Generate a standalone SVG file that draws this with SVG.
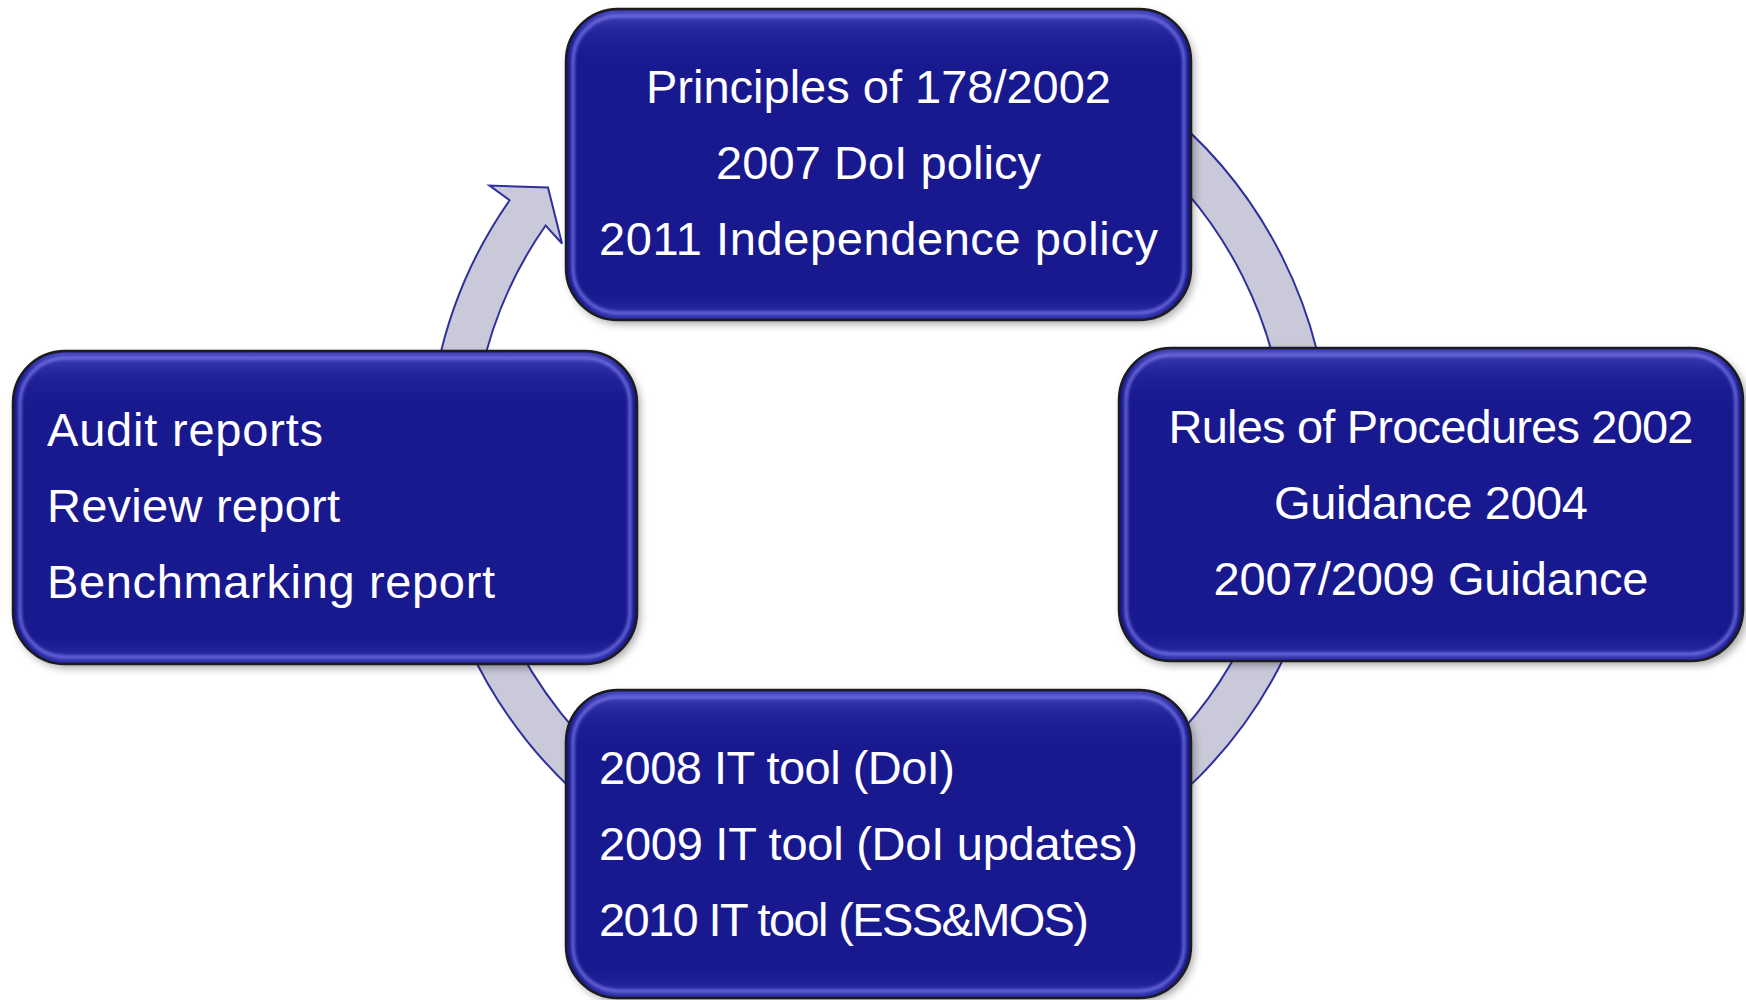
<svg xmlns="http://www.w3.org/2000/svg" width="1746" height="1000" viewBox="0 0 1746 1000">
  <defs>
    <style>
      .box { fill: #19198f; stroke: #1c1c1c; stroke-width: 2.5; }
      .shadow { fill: #000; opacity: 0.35; }
      .hl { fill: none; stroke: #8080f0; stroke-width: 3.5; opacity: 0.75; }
      .top { fill: url(#topg); }
      .t { font-family: "Liberation Sans", Arial, sans-serif; font-size: 47px; fill: #ffffff; }
      .c { text-anchor: middle; }
      .ring { fill: #c9c9da; stroke: #30309c; stroke-width: 2; stroke-linejoin: miter; }
    </style>
    <filter id="blur" x="-10%" y="-10%" width="120%" height="120%">
      <feGaussianBlur stdDeviation="4"/>
    </filter>
    <filter id="soft" x="-5%" y="-5%" width="110%" height="110%">
      <feGaussianBlur stdDeviation="1.4"/>
    </filter>
    <linearGradient id="topg" x1="0" y1="0" x2="0" y2="1">
      <stop offset="0" stop-color="#6a6ae0" stop-opacity="0.55"/>
      <stop offset="0.08" stop-color="#3a3ab8" stop-opacity="0.25"/>
      <stop offset="0.2" stop-color="#19198f" stop-opacity="0"/>
      <stop offset="0.9" stop-color="#19198f" stop-opacity="0"/>
      <stop offset="1" stop-color="#5050d0" stop-opacity="0.45"/>
    </linearGradient>
  </defs>

  <g id="connectors">
    <path class="ring" d="M 995.7 23.4 A 451 451 0 1 1 509.6 200.3 L 489.5 185.5 L 548 187.5 L 562 243.5 L 545.6 225.5 A 407 407 0 1 0 984.3 65.9 Z"/>
  </g>

  <g id="node-top">
    <rect class="shadow" x="569" y="13" width="625" height="311" rx="52" filter="url(#blur)"/>
    <rect class="box" x="566" y="9" width="625" height="311" rx="52"/>
    <rect class="top" x="567.5" y="10.5" width="622" height="308" rx="50"/>
    <rect class="hl" x="573" y="16" width="611" height="297" rx="45" filter="url(#soft)"/>
    <text class="t c" x="878.5" y="103" textLength="465">Principles of 178/2002</text>
    <text class="t c" x="878.5" y="179" textLength="325">2007 DoI policy</text>
    <text class="t c" x="878.5" y="255" textLength="559">2011 Independence policy</text>
  </g>

  <g id="node-right">
    <rect class="shadow" x="1122" y="352" width="625" height="313" rx="52" filter="url(#blur)"/>
    <rect class="box" x="1119" y="348" width="624" height="313" rx="52"/>
    <rect class="top" x="1120.5" y="349.5" width="621" height="310" rx="50"/>
    <rect class="hl" x="1126" y="355" width="610" height="299" rx="45" filter="url(#soft)"/>
    <text class="t c" x="1431" y="443" textLength="525">Rules of Procedures 2002</text>
    <text class="t c" x="1431" y="519" textLength="314">Guidance 2004</text>
    <text class="t c" x="1431" y="595" textLength="435">2007/2009 Guidance</text>
  </g>

  <g id="node-bottom">
    <rect class="shadow" x="569" y="694" width="625" height="308" rx="52" filter="url(#blur)"/>
    <rect class="box" x="566" y="690" width="625" height="308" rx="52"/>
    <rect class="top" x="567.5" y="691.5" width="622" height="305" rx="50"/>
    <rect class="hl" x="573" y="697" width="611" height="294" rx="45" filter="url(#soft)"/>
    <text class="t" x="599" y="784" textLength="356">2008 IT tool (DoI)</text>
    <text class="t" x="599" y="860" textLength="539">2009 IT tool (DoI updates)</text>
    <text class="t" x="599" y="936" textLength="490">2010 IT tool (ESS&amp;MOS)</text>
  </g>

  <g id="node-left">
    <rect class="shadow" x="16" y="355" width="624" height="313" rx="52" filter="url(#blur)"/>
    <rect class="box" x="13" y="351" width="624" height="313" rx="52"/>
    <rect class="top" x="14.5" y="352.5" width="621" height="310" rx="50"/>
    <rect class="hl" x="20" y="358" width="610" height="299" rx="45" filter="url(#soft)"/>
    <text class="t" x="47" y="446" textLength="276">Audit reports</text>
    <text class="t" x="47" y="522" textLength="293">Review report</text>
    <text class="t" x="47" y="598" textLength="448">Benchmarking report</text>
  </g>
</svg>
